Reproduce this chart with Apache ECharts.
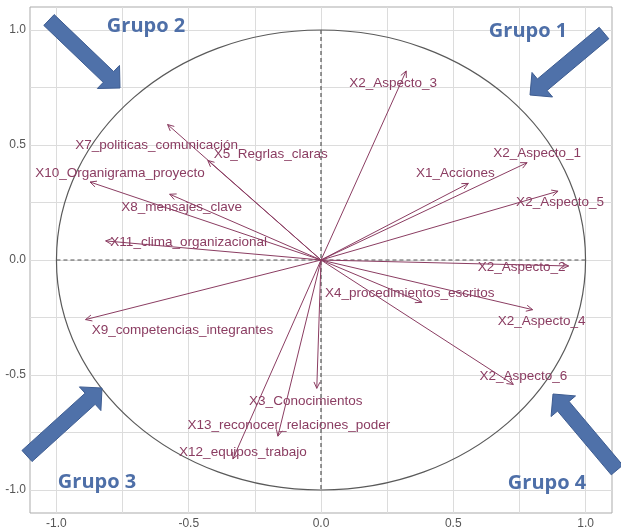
<!DOCTYPE html>
<html>
<head>
<meta charset="utf-8">
<script src="https://cdn.jsdelivr.net/npm/echarts@6/dist/echarts.min.js"></script>
<style>
  html, body { margin: 0; padding: 0; background: #ffffff; }
  #chart { width: 621px; height: 531px; }
</style>
</head>
<body>
<div id="chart"></div>
<script>
// Variables of the correlation circle (coordinates on the two first dimensions)
const variables = [
  'X2_Aspecto_3', 'X2_Aspecto_1', 'X1_Acciones', 'X2_Aspecto_5', 'X2_Aspecto_2',
  'X4_procedimientos_escritos', 'X2_Aspecto_4', 'X2_Aspecto_6', 'X3_Conocimientos',
  'X13_reconocer_relaciones_poder', 'X12_equipos_trabajo', 'X9_competencias_integrantes',
  'X7_politicas_comunicación', 'X5_Regrlas_claras', 'X10_Organigrama_proyecto',
  'X8_mensajes_clave', 'X11_clima_organizacional'
];
const dim1 = [0.322, 0.779, 0.557, 0.896, 0.936, 0.381, 0.800, 0.727, -0.016,
              -0.163, -0.333, -0.890, -0.580, -0.428, -0.873, -0.572, -0.814];
const dim2 = [0.822, 0.423, 0.333, 0.299, -0.026, -0.184, -0.216, -0.541, -0.558,
              -0.766, -0.865, -0.259, 0.589, 0.433, 0.339, 0.286, 0.083];

// Axis ticks and grid
const tickValues = [-1, -0.5, 0, 0.5, 1];
const gridValues = [-1, -0.75, -0.5, -0.25, 0, 0.25, 0.5, 0.75, 1];
const unitRadius = 1;

// Group annotations
const groupNames = ['Grupo 1', 'Grupo 2', 'Grupo 3', 'Grupo 4'];

// Layout: label offsets (px) from each arrow tip
const labelOffsets = [
  [-13, 12], [10, -9], [-13, -10], [2, 11], [-47, 1],
  [-12, -9], [9, 12], [10, -8], [-11, 13],
  [11, -11], [10, -7], [97, 11],
  [-11, 21], [63, -6], [30, -9],
  [12, 13], [83, 1]
];
// Layout: group title centres and block-arrow geometry (px)
const groupLayout = [
  { text: [528, 31], tail: [604, 33], tip: [530, 95] },
  { text: [146, 26], tail: [49, 20], tip: [120, 88] },
  { text: [97, 482], tail: [27, 456], tip: [102, 388] },
  { text: [547, 483], tail: [617, 470], tip: [553, 394] }
];

const VEC_COLOR = '#8b3d62';
const GROUP_COLOR = '#4e6fa8';

function blockArrow(tail, tip, shaftW, headW, headL) {
  const dx = tip[0] - tail[0], dy = tip[1] - tail[1];
  const len = Math.hypot(dx, dy);
  const ux = dx / len, uy = dy / len;
  const px = -uy, py = ux;
  const bx = tip[0] - ux * headL, by = tip[1] - uy * headL;
  const s = shaftW / 2, h = headW / 2;
  return [
    [tail[0] + px * s, tail[1] + py * s],
    [bx + px * s, by + py * s],
    [bx + px * h, by + py * h],
    [tip[0], tip[1]],
    [bx - px * h, by - py * h],
    [bx - px * s, by - py * s],
    [tail[0] - px * s, tail[1] - py * s]
  ];
}

const graphics = [];
groupLayout.forEach((g, i) => {
  graphics.push({
    type: 'polygon',
    z: 100,
    shape: { points: blockArrow(g.tail, g.tip, 15, 32, 16) },
    style: { fill: '#4f71a9', stroke: '#3d5c91', lineWidth: 1 }
  });
  graphics.push({
    type: 'text',
    z: 100,
    x: g.text[0],
    y: g.text[1],
    style: {
      text: groupNames[i],
      fill: GROUP_COLOR,
      font: 'bold 20px "Open Sans", sans-serif',
      align: 'center',
      verticalAlign: 'middle'
    }
  });
});

function renderVector(params, api) {
  const i = params.dataIndex;
  const o = api.coord([0, 0]);
  const p = api.coord([api.value(0), api.value(1)]);
  const ang = Math.atan2(p[1] - o[1], p[0] - o[0]);
  const h = 7, spread = Math.PI / 7;
  const a1 = [p[0] - h * Math.cos(ang - spread), p[1] - h * Math.sin(ang - spread)];
  const a2 = [p[0] - h * Math.cos(ang + spread), p[1] - h * Math.sin(ang + spread)];
  const off = labelOffsets[i];
  return {
    type: 'group',
    children: [
      { type: 'line', shape: { x1: o[0], y1: o[1], x2: p[0], y2: p[1] },
        style: { stroke: VEC_COLOR, lineWidth: 1 } },
      { type: 'polyline', shape: { points: [a1, p, a2] },
        style: { stroke: VEC_COLOR, fill: null, lineWidth: 1 } },
      { type: 'text', x: p[0] + off[0], y: p[1] + off[1],
        style: { text: variables[i], fill: VEC_COLOR, font: '13.5px "Liberation Sans", Arial, sans-serif',
                 align: 'center', verticalAlign: 'middle' } }
    ]
  };
}

function renderCircle(params, api) {
  const r = api.value(2);
  const c = api.coord([api.value(0), api.value(1)]);
  const sz = api.size([r, r]);
  const l = api.coord([-r, 0]), rr = api.coord([r, 0]);
  const t = api.coord([0, r]), b = api.coord([0, -r]);
  const dash = { stroke: '#555555', lineWidth: 1.2, lineDash: [4, 3] };
  return {
    type: 'group',
    children: [
      { type: 'line', shape: { x1: l[0], y1: l[1], x2: rr[0], y2: rr[1] }, style: dash },
      { type: 'line', shape: { x1: t[0], y1: t[1], x2: b[0], y2: b[1] }, style: dash },
      { type: 'ellipse', shape: { cx: c[0], cy: c[1], rx: sz[0], ry: sz[1] },
        style: { stroke: '#5a5a5a', fill: null, lineWidth: 1.2 } }
    ]
  };
}

const axisCommon = {
  type: 'value',
  min: -1.1,
  max: 1.1,
  axisLine: { show: false },
  axisTick: { show: false, customValues: gridValues },
  axisLabel: {
    customValues: tickValues,
    formatter: v => v.toFixed(1),
    color: '#555555',
    fontSize: 12,
    fontFamily: '"Liberation Sans", Arial, sans-serif'
  },
  splitLine: { show: true, lineStyle: { color: '#dcdcdc', width: 1 } }
};

const chart = echarts.init(document.getElementById('chart'), null, { renderer: 'canvas' });
chart.setOption({
  animation: false,
  backgroundColor: '#ffffff',
  grid: {
    left: 30, right: 9, top: 7, bottom: 18,
    show: true, borderColor: '#ababab', borderWidth: 1, backgroundColor: '#ffffff'
  },
  xAxis: Object.assign({}, axisCommon, { axisLabel: Object.assign({}, axisCommon.axisLabel, { margin: 5 }) }),
  yAxis: Object.assign({}, axisCommon, { axisLabel: Object.assign({}, axisCommon.axisLabel, { margin: 4 }) }),
  series: [
    {
      type: 'custom',
      renderItem: renderCircle,
      data: [[0, 0, unitRadius]],
      silent: true,
      z: 2
    },
    {
      type: 'custom',
      renderItem: renderVector,
      data: dim1.map((x, i) => [x, dim2[i]]),
      z: 3
    }
  ],
  graphic: graphics
});
</script>
</body>
</html>
